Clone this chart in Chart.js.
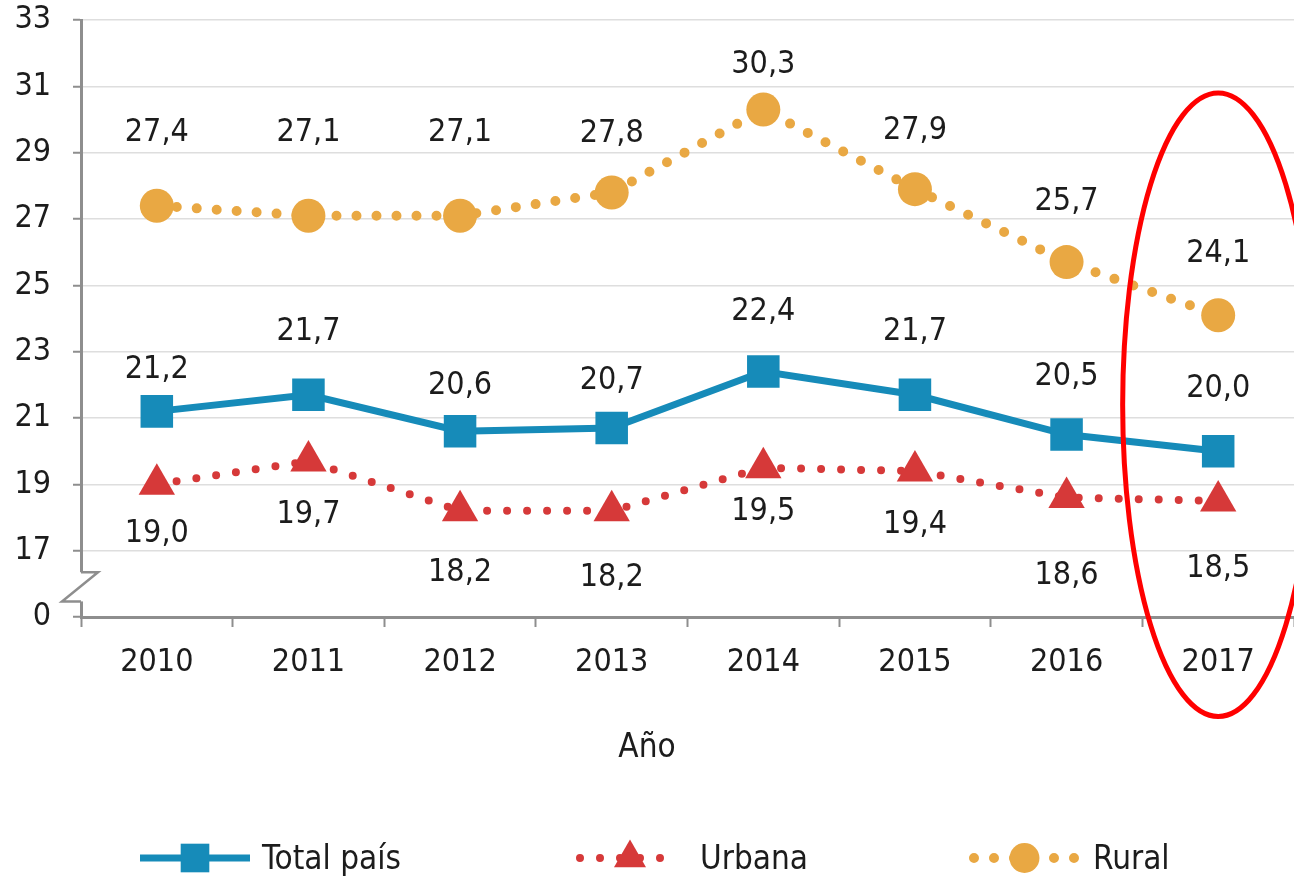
<!DOCTYPE html>
<html>
<head>
<meta charset="utf-8">
<script src="https://cdn.jsdelivr.net/npm/chart.js@4.4.1/dist/chart.umd.min.js"></script>
<style>
    html, body { margin: 0; background: #fff; }
    #wrap { width: 1294px; height: 885px; }
</style>
</head>
<body>
<div id="wrap"><canvas id="chart" width="1294" height="885"></canvas></div>
<script>
const years = ['2010', '2011', '2012', '2013', '2014', '2015', '2016', '2017'];
const totalPais = [21.2, 21.7, 20.6, 20.7, 22.4, 21.7, 20.5, 20.0];
const urbana = [19.0, 19.7, 18.2, 18.2, 19.5, 19.4, 18.6, 18.5];
const rural = [27.4, 27.1, 27.1, 27.8, 30.3, 27.9, 25.7, 24.1];

// y axis is broken: the bottom tick (15) stands for 0
const yMin = 15, yMax = 33, yStep = 2;
const yBreakLabel = '0';

// label nudges in px (negative = above the point)
const totalLabelDy = [-42, -63, -46, -47, -60, -63, -58, -62];
const urbanaLabelDy = [49, 54, 62, 67, 44, 54, 78, 68];
const ruralLabelDy = [-73, -83, -83, -59, -45, -58, -60, -61];

const FONT = "'Liberation Sans Narrow', 'DejaVu Sans Condensed', sans-serif";
const AXIS_GRAY = '#8e8e8e';
const TEXT = '#1c1c1c';

const BLUE = '#168bb9';
const RED = '#d63939';
const ORANGE = '#e9a843';

const fmt = (v) => v.toFixed(1).replace('.', ',');

const labelPlugin = {
    id: 'valueLabels',
    afterDatasetsDraw(chart) {
        const ctx = chart.ctx;
        ctx.save();
        ctx.font = '32px ' + FONT;
        ctx.fillStyle = TEXT;
        ctx.textAlign = 'center';
        ctx.textBaseline = 'middle';
        chart.data.datasets.forEach((ds, di) => {
            const meta = chart.getDatasetMeta(di);
            meta.data.forEach((pt, i) => {
                ctx.fillText(fmt(ds.data[i]), pt.x, pt.y + ds.labelDy[i]);
            });
        });
        ctx.restore();
    }
};

const decorPlugin = {
    id: 'decor',
    afterDraw(chart) {
        const ctx = chart.ctx;
        const y = chart.scales.y;
        const x = chart.scales.x;
        const left = chart.chartArea.left;

        // axis break zigzag
        const yA = y.getPixelForValue(16.35);
        const yB = y.getPixelForValue(15.47);
        ctx.save();
        ctx.fillStyle = '#fff';
        ctx.fillRect(left - 4, yA, 8, yB - yA);
        ctx.strokeStyle = AXIS_GRAY;
        ctx.lineWidth = 2.5;
        ctx.beginPath();
        ctx.moveTo(left, yA);
        ctx.lineTo(left + 17, yA);
        ctx.lineTo(left - 19, yB);
        ctx.lineTo(left, yB);
        ctx.stroke();
        ctx.restore();

        // red ellipse around the last year
        const cx = x.getPixelForValue(7);
        const step = x.getPixelForValue(7) - x.getPixelForValue(6);
        const cy = y.getPixelForValue(21.4);
        const ry = y.getPixelForValue(21.4) - y.getPixelForValue(30.8);
        ctx.save();
        ctx.strokeStyle = '#ff0000';
        ctx.lineWidth = 5;
        ctx.beginPath();
        ctx.ellipse(cx, cy, step * 0.63, ry, 0, 0, Math.PI * 2);
        ctx.stroke();
        ctx.restore();

        // axis title
        ctx.save();
        ctx.font = '33px ' + FONT;
        ctx.fillStyle = TEXT;
        ctx.textAlign = 'center';
        ctx.textBaseline = 'middle';
        ctx.fillText('Año', chart.width / 2, 748);
        ctx.restore();

        // legend with line + marker
        const items = [
            { ds: chart.data.datasets[0], x0: 140, x1: 250, tx: 262 },
            { ds: chart.data.datasets[1], x0: 580, x1: 680, tx: 700 },
            { ds: chart.data.datasets[2], x0: 974, x1: 1075, tx: 1093 }
        ];
        const ly = 858;
        items.forEach(it => {
            const ds = it.ds;
            ctx.save();
            ctx.strokeStyle = ds.borderColor;
            ctx.lineWidth = ds.borderWidth;
            ctx.lineCap = ds.borderCapStyle || 'butt';
            ctx.setLineDash(ds.borderDash || []);
            ctx.beginPath();
            ctx.moveTo(it.x0, ly);
            ctx.lineTo(it.x1, ly);
            ctx.stroke();
            ctx.setLineDash([]);
            ctx.fillStyle = ds.pointBackgroundColor;
            Chart.helpers.drawPoint(ctx, {
                pointStyle: ds.pointStyle,
                radius: ds.pointRadius * 0.88,
                rotation: 0,
                borderWidth: 0
            }, (it.x0 + it.x1) / 2, ly);
            ctx.font = '33px ' + FONT;
            ctx.fillStyle = TEXT;
            ctx.textAlign = 'left';
            ctx.textBaseline = 'middle';
            ctx.fillText(ds.label, it.tx, ly + 2);
            ctx.restore();
        });
    }
};

function initChart() {
    const ctx = document.getElementById('chart').getContext('2d');

    const data = {
        labels: years,
        datasets: [
            {
                label: 'Total país',
                data: totalPais,
                labelDy: totalLabelDy,
                borderColor: BLUE,
                borderWidth: 7,
                pointStyle: 'rect',
                pointRadius: 23,
                pointBackgroundColor: BLUE,
                pointBorderWidth: 0,
                tension: 0
            },
            {
                label: 'Urbana',
                data: urbana,
                labelDy: urbanaLabelDy,
                borderColor: RED,
                borderWidth: 8,
                borderDash: [0, 20],
                borderCapStyle: 'round',
                pointStyle: 'triangle',
                pointRadius: 21,
                pointBackgroundColor: RED,
                pointBorderWidth: 0,
                tension: 0
            },
            {
                label: 'Rural',
                data: rural,
                labelDy: ruralLabelDy,
                borderColor: ORANGE,
                borderWidth: 10,
                borderDash: [0, 20],
                borderCapStyle: 'round',
                pointStyle: 'circle',
                pointRadius: 17,
                pointBackgroundColor: ORANGE,
                pointBorderWidth: 0,
                tension: 0
            }
        ]
    };

    new Chart(ctx, {
        type: 'line',
        data: data,
        options: {
            responsive: false,
            animation: false,
            devicePixelRatio: 1,
            layout: { autoPadding: false, padding: { top: 20, right: 0, bottom: 0, left: 0 } },
            plugins: {
                legend: { display: false },
                tooltip: { enabled: false }
            },
            scales: {
                x: {
                    offset: true,
                    afterFit: (s) => {
                        s.height = 268;
                        s.paddingLeft = 0;
                        s.paddingRight = 0;
                    },
                    border: { display: true, color: AXIS_GRAY, width: 3 },
                    grid: {
                        display: true,
                        drawOnChartArea: false,
                        offset: true,
                        tickLength: 10,
                        tickColor: AXIS_GRAY,
                        tickWidth: 2
                    },
                    ticks: {
                        font: { family: FONT, size: 32 },
                        color: TEXT,
                        padding: 16,
                        maxRotation: 0
                    }
                },
                y: {
                    min: yMin,
                    max: yMax,
                    afterFit: (s) => {
                        s.width = 81;
                        s.paddingTop = 0;
                        s.paddingBottom = 0;
                    },
                    border: { display: true, color: AXIS_GRAY, width: 3 },
                    grid: {
                        color: '#dedede',
                        lineWidth: 1.5,
                        tickLength: 8,
                        tickColor: AXIS_GRAY,
                        tickWidth: 2
                    },
                    ticks: {
                        stepSize: yStep,
                        font: { family: FONT, size: 32 },
                        color: TEXT,
                        padding: 22,
                        callback: (v) => v === yMin ? yBreakLabel : v
                    }
                }
            }
        },
        plugins: [labelPlugin, decorPlugin]
    });
}

document.addEventListener('DOMContentLoaded', initChart);
</script>
</body>
</html>
